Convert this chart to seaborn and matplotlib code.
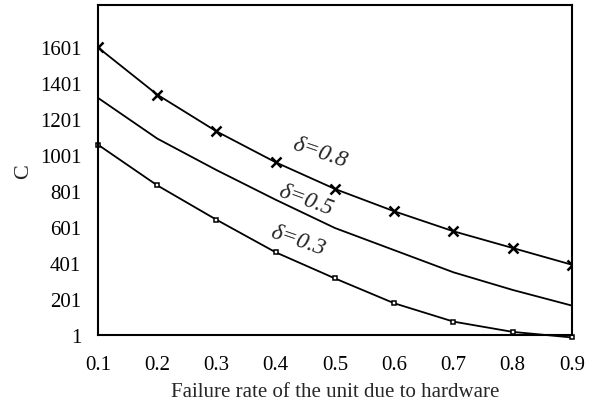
import pandas as pd
import seaborn as sns
import matplotlib
matplotlib.use('Agg')
import matplotlib.pyplot as plt

# failure rate of the unit due to hardware
rate = [0.1, 0.2, 0.3, 0.4, 0.5, 0.6, 0.7, 0.8, 0.9]
cost_d08 = [1601, 1339, 1135, 963, 815, 691, 580, 487, 394]
cost_d05 = [1321, 1095, 920, 755, 598, 475, 352, 254, 167]
cost_d03 = [1061, 835, 644, 463, 318, 180, 78, 21, -10]

y_ticks = [1, 201, 401, 601, 801, 1001, 1201, 1401, 1601]
x_ticks = [0.1, 0.2, 0.3, 0.4, 0.5, 0.6, 0.7, 0.8, 0.9]

df = pd.DataFrame({'rate': rate, 'd08': cost_d08, 'd05': cost_d05, 'd03': cost_d03})

sns.set_style('white')
plt.rcParams['font.family'] = ['Liberation Serif', 'DejaVu Serif']

fig = plt.figure(figsize=(5.95, 4.06), dpi=100)
ax = fig.add_axes([0.1647, 0.1712, 0.7966, 0.814])

sns.lineplot(data=df, x='rate', y='d08', ax=ax, color='black', linewidth=1.3,
             marker='x', markersize=7.5, markeredgewidth=1.8, markeredgecolor='black')
sns.lineplot(data=df, x='rate', y='d05', ax=ax, color='black', linewidth=1.3)
sns.lineplot(data=df, x='rate', y='d03', ax=ax, color='black', linewidth=1.3,
             marker='s', markersize=3.2, markerfacecolor='white',
             markeredgecolor='black', markeredgewidth=1.1)
ax.lines[-1].set_clip_on(False)

ax.set_xlim(0.1, 0.9)
ax.set_ylim(1, 1837)
ax.set_xticks(x_ticks)
ax.set_xticklabels([f'{v:.1f}' for v in x_ticks])
ax.set_yticks(y_ticks)
ax.set_yticklabels([str(v) for v in y_ticks])
ax.tick_params(axis='both', length=0, labelsize=15, colors='black')
ax.tick_params(axis='x', pad=14)
ax.tick_params(axis='y', pad=12)

for s in ax.spines.values():
    s.set_color('black')
    s.set_linewidth(1.5)

ax.set_xlabel('Failure rate of the unit due to hardware', fontsize=15, labelpad=6)
ax.set_ylabel('C', fontsize=16, labelpad=5)

ax.text(0.4747, 1020, 'δ=0.8', fontsize=17, style='italic', rotation=-19,
        ha='center', va='center', rotation_mode='anchor')
ax.text(0.451, 759, 'δ=0.5', fontsize=17, style='italic', rotation=-20,
        ha='center', va='center', rotation_mode='anchor')
ax.text(0.4376, 532, 'δ=0.3', fontsize=17, style='italic', rotation=-19,
        ha='center', va='center', rotation_mode='anchor')

fig.savefig('out.png', dpi=100)
